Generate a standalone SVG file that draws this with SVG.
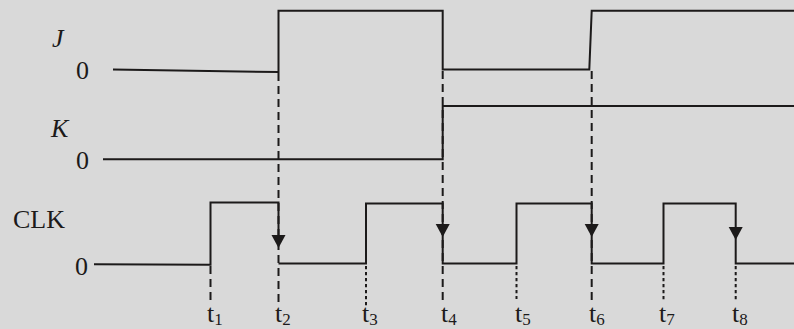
<svg xmlns="http://www.w3.org/2000/svg" width="794" height="329" viewBox="0 0 794 329">
<style>
.bg{fill:#d9d9d9}
.w{fill:none;stroke:#1c1a1a;stroke-width:2;stroke-linejoin:miter}
.dash{fill:none;stroke:#1c1a1a;stroke-width:2;stroke-dasharray:8 5}
.dot{fill:none;stroke:#1c1a1a;stroke-width:2;stroke-dasharray:3.3 2.7}
.lbl{font-family:"Liberation Serif","Times New Roman",serif;font-size:26px;fill:#1c1a1a}
.it{font-style:italic}
.sub{font-size:17px}
.ah{fill:#1c1a1a}
</style>
<defs>
<path id="ah" d="M-7,0 L7,0 L0,13 Z"/>
</defs>
<rect class="bg" x="0" y="0" width="794" height="329"/>

<g id="connectors">
<line class="dash" x1="278.5" y1="73" x2="278.5" y2="306"/>
<line class="dash" x1="442.7" y1="71" x2="442.7" y2="305"/>
<line class="dash" x1="591.7" y1="71" x2="591.7" y2="303"/>
<line class="dash" x1="210.5" y1="266" x2="210.5" y2="305"/>
<line class="dot" x1="366" y1="266" x2="366" y2="306"/>
<line class="dot" x1="516.5" y1="266" x2="516.5" y2="299"/>
<line class="dot" x1="663.5" y1="266" x2="663.5" y2="300"/>
<line class="dot" x1="735.7" y1="266" x2="735.7" y2="300"/>
</g>

<g id="J">
<text class="lbl it" x="52" y="47">J</text>
<text class="lbl" x="76" y="79">0</text>
<polyline class="w" points="113,69.5 278.5,72 278.5,10.7 442.7,10.7 442.7,69.5 589.3,69.5 591.7,10.7 794,10.7"/>
</g>

<g id="K">
<text class="lbl it" x="51" y="137">K</text>
<text class="lbl" x="76" y="169">0</text>
<polyline class="w" points="103,159.3 442.7,159.3 442.7,106 794,106"/>
</g>

<g id="CLK">
<text class="lbl" x="13" y="228">CLK</text>
<text class="lbl" x="75" y="275">0</text>
<polyline class="w" points="94,264.3 210.5,264.7 210.5,202.5 278.5,202.5 278.5,236"/>
<polyline class="w" points="278.5,263.5 366,263.5 366,203.5 442.7,203.5 442.7,263.5 516.5,263.5 516.5,203.5 591.7,203.5 591.7,263.5 663.5,263.5 663.5,203.5 735.7,203.5 735.7,263.5 794,263.5"/>
<use href="#ah" class="ah" x="278.5" y="235"/>
<use href="#ah" class="ah" x="442.7" y="224"/>
<use href="#ah" class="ah" x="591.7" y="224"/>
<use href="#ah" class="ah" x="735.7" y="227"/>
</g>

<g id="tlabels">
<text class="lbl" x="207" y="322">t<tspan class="sub" dy="3">1</tspan></text>
<text class="lbl" x="275" y="322">t<tspan class="sub" dy="3">2</tspan></text>
<text class="lbl" x="362" y="322">t<tspan class="sub" dy="3">3</tspan></text>
<text class="lbl" x="441" y="322">t<tspan class="sub" dy="3">4</tspan></text>
<text class="lbl" x="515" y="322">t<tspan class="sub" dy="3">5</tspan></text>
<text class="lbl" x="589" y="322">t<tspan class="sub" dy="3">6</tspan></text>
<text class="lbl" x="659" y="322">t<tspan class="sub" dy="3">7</tspan></text>
<text class="lbl" x="732" y="322">t<tspan class="sub" dy="3">8</tspan></text>
</g>
</svg>
